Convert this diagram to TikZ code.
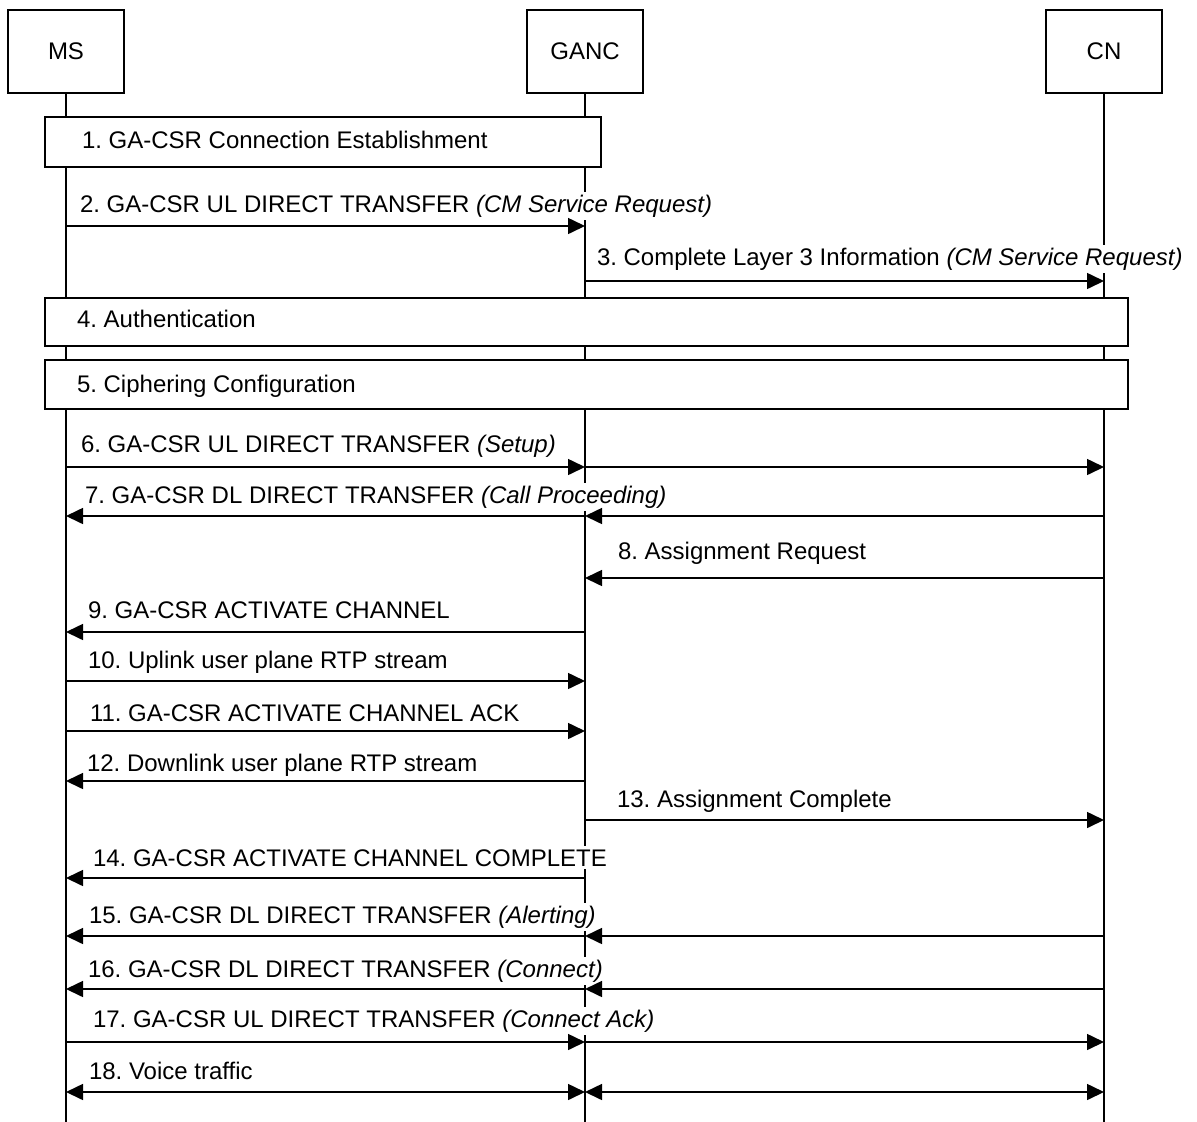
\documentclass[tikz,border=0pt]{standalone}
\usepackage{fontspec}
\setmainfont{Liberation Sans}
\usetikzlibrary{arrows.meta}
\frenchspacing
\tikzset{
  actor/.style={draw, line width=1.6pt, fill=white, minimum width=116pt, minimum height=83pt, inner sep=0pt, font=\fontsize{24}{28}\selectfont},
  life/.style={line width=1.6pt},
  procbox/.style={draw, line width=1.6pt, fill=white, inner sep=0pt},
  lbl/.style={anchor=base west, fill=white, inner sep=3pt, outer sep=0pt, font=\fontsize{24}{28}\selectfont},
  boxlbl/.style={anchor=base west, inner sep=3pt, outer sep=0pt, font=\fontsize{24}{28}\selectfont},
  msg/.style={line width=1.6pt, -{Triangle[length=17pt,width=16pt]}},
  bimsg/.style={line width=1.6pt, {Triangle[length=17pt,width=16pt]}-{Triangle[length=17pt,width=16pt]}}
}
\begin{document}
\frenchspacing
\begin{tikzpicture}[x=1pt, y=-1pt]
\useasboundingbox (0,0) rectangle (1197,1122);
% actors
\node[actor] (ms) at (66,51.5) {MS};
\node[actor] (ganc) at (585,51.5) {GANC};
\node[actor] (cn) at (1104,51.5) {CN};
\coordinate (bot) at (0,1122);
\draw[life] (ms.south) -- (ms.south |- bot);
\draw[life] (ganc.south) -- (ganc.south |- bot);
\draw[life] (cn.south) -- (cn.south |- bot);
% procedure boxes
\node[procbox, minimum width=556pt, minimum height=50pt] (p1) at (323,142) {};
\node[procbox, minimum width=1083pt, minimum height=48pt] (p4) at (586.5,322) {};
\node[procbox, minimum width=1083pt, minimum height=49pt] (p5) at (586.5,384.5) {};
\node[boxlbl] (t1) at (79,148) {1. GA-CSR Connection Establishment};
\node[boxlbl] (t4) at (74,327) {4. Authentication};
\node[boxlbl] (t5) at (74,392) {5. Ciphering Configuration};
% row coordinates
\coordinate (r2) at (0,226);
\coordinate (r3) at (0,281);
\coordinate (r6) at (0,467);
\coordinate (r7) at (0,516);
\coordinate (r8) at (0,578);
\coordinate (r9) at (0,632);
\coordinate (r10) at (0,681);
\coordinate (r11) at (0,731);
\coordinate (r12) at (0,781);
\coordinate (r13) at (0,820);
\coordinate (r14) at (0,878);
\coordinate (r15) at (0,936);
\coordinate (r16) at (0,989);
\coordinate (r17) at (0,1042);
\coordinate (r18) at (0,1092);
% labels
\node[lbl] (t2) at (77,212) {2. GA-CSR UL DIRECT TRANSFER \textit{(CM Service Request)}};
\node[lbl] (t3) at (594,265) {3. Complete Layer 3 Information \textit{(CM Service Request)}};
\node[lbl] (t6) at (78,452) {6. GA-CSR UL DIRECT TRANSFER \textit{(Setup)}};
\node[lbl] (t7) at (82,503) {7. GA-CSR DL DIRECT TRANSFER \textit{(Call Proceeding)}};
\node[lbl] (t8) at (615,559) {8. Assignment Request};
\node[lbl] (t9) at (85,618) {9. GA-CSR ACTIVATE CHANNEL};
\node[lbl] (t10) at (85,668) {10. Uplink user plane RTP stream};
\node[lbl] (t11) at (87,721) {11. GA-CSR ACTIVATE CHANNEL ACK};
\node[lbl] (t12) at (84,771) {12. Downlink user plane RTP stream};
\node[lbl] (t13) at (614,807) {13. Assignment Complete};
\node[lbl] (t14) at (90,866) {14. GA-CSR ACTIVATE CHANNEL COMPLETE};
\node[lbl] (t15) at (86,923) {15. GA-CSR DL DIRECT TRANSFER \textit{(Alerting)}};
\node[lbl] (t16) at (85,977) {16. GA-CSR DL DIRECT TRANSFER \textit{(Connect)}};
\node[lbl] (t17) at (90,1027) {17. GA-CSR UL DIRECT TRANSFER \textit{(Connect Ack)}};
\node[lbl] (t18) at (86,1079) {18. Voice traffic};
% messages
\draw[msg] (ms |- r2) -- (ganc |- r2);
\draw[msg] (ganc |- r3) -- (cn |- r3);
\draw[msg] (ms |- r6) -- (ganc |- r6);
\draw[msg] (ganc |- r6) -- (cn |- r6);
\draw[msg] (cn |- r7) -- (ganc |- r7);
\draw[msg] (ganc |- r7) -- (ms |- r7);
\draw[msg] (cn |- r8) -- (ganc |- r8);
\draw[msg] (ganc |- r9) -- (ms |- r9);
\draw[msg] (ms |- r10) -- (ganc |- r10);
\draw[msg] (ms |- r11) -- (ganc |- r11);
\draw[msg] (ganc |- r12) -- (ms |- r12);
\draw[msg] (ganc |- r13) -- (cn |- r13);
\draw[msg] (ganc |- r14) -- (ms |- r14);
\draw[msg] (cn |- r15) -- (ganc |- r15);
\draw[msg] (ganc |- r15) -- (ms |- r15);
\draw[msg] (cn |- r16) -- (ganc |- r16);
\draw[msg] (ganc |- r16) -- (ms |- r16);
\draw[msg] (ms |- r17) -- (ganc |- r17);
\draw[msg] (ganc |- r17) -- (cn |- r17);
\draw[bimsg] (ms |- r18) -- (ganc |- r18);
\draw[bimsg] (ganc |- r18) -- (cn |- r18);
\end{tikzpicture}
\end{document}
